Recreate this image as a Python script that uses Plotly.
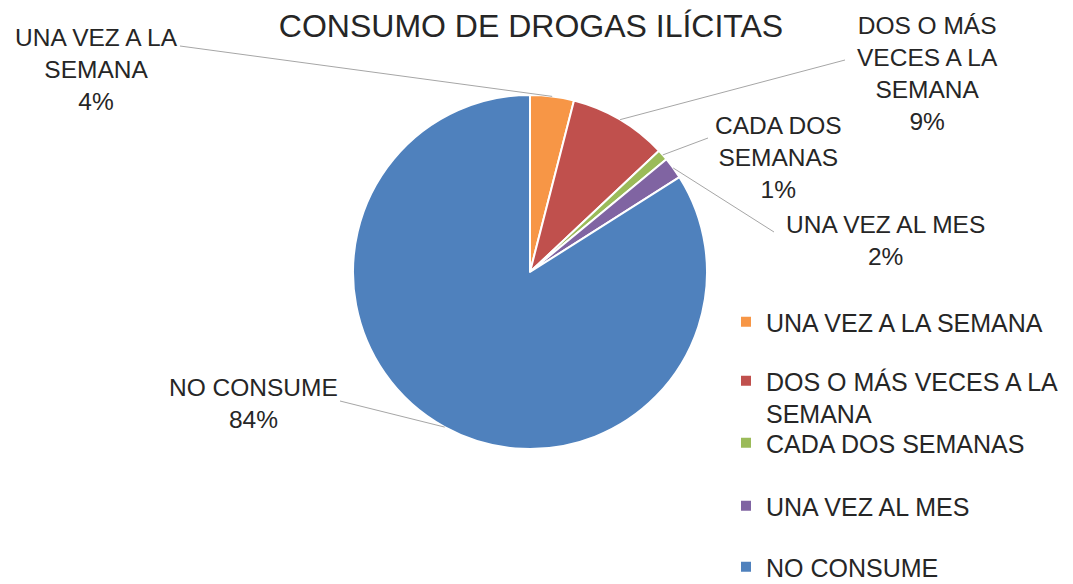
import numpy as np
import plotly.graph_objects as go

# la pagina deja 8px de margen en el body: se compensa
OFF = 8
W, H = 1073 - OFF, 584 - OFF

categorias = ["UNA VEZ A LA SEMANA", "DOS O MÁS VECES A LA SEMANA", "CADA DOS SEMANAS",
              "UNA VEZ AL MES", "NO CONSUME"]
porcentajes = [4, 9, 1, 2, 84]
colores = ["#F79646", "#C0504D", "#9BBB59", "#8064A2", "#4F81BD"]
etiquetas = ["UNA VEZ A LA<br>SEMANA", "DOS O MÁS<br>VECES A LA<br>SEMANA", "CADA DOS<br>SEMANAS",
             "UNA VEZ AL MES", "NO CONSUME"]
leyenda = ["UNA VEZ A LA SEMANA", "DOS O MÁS VECES A LA<br>SEMANA", "CADA DOS SEMANAS",
           "UNA VEZ AL MES", "NO CONSUME"]

# posicion del pastel en pixeles de la ventana
cx, cy, r = 530, 272, 177
# centro de cada etiqueta y punto donde termina su linea guia
pos_etiqueta = [(96, 70), (927, 73), (778, 157), (885, 240), (253, 403)]
fin_linea = [(180, 46), (845, 60), (708, 138), (774, 232), (340, 401)]
# posicion vertical de cada entrada de leyenda
pos_leyenda = [322, 397, 443, 506, 567]

px_x = lambda x: (x - OFF) / W
px_y = lambda y: 1 - (y - OFF) / H

fig = go.Figure()
fig.add_trace(go.Pie(
    labels=categorias, values=porcentajes, sort=False, direction="clockwise",
    rotation=0, textinfo="none", showlegend=False, hoverinfo="label+percent",
    marker=dict(colors=colores, line=dict(color="white", width=2)),
    domain=dict(x=[px_x(cx - r), px_x(cx + r)], y=[px_y(cy + r), px_y(cy - r)]),
))

total = sum(porcentajes)
acum = np.cumsum([0] + porcentajes)
shapes, annots = [], []
for i, v in enumerate(porcentajes):
    ang = np.radians((acum[i] + v / 2) / total * 360)
    ex, ey = cx + r * np.sin(ang), cy - r * np.cos(ang)
    fx, fy = fin_linea[i]
    shapes.append(dict(type="line", xref="paper", yref="paper",
                       x0=px_x(ex), y0=px_y(ey), x1=px_x(fx), y1=px_y(fy),
                       line=dict(color="#A6A6A6", width=1)))
    tx, ty = pos_etiqueta[i]
    pct = round(v / total * 100)
    annots.append(dict(text=f"{etiquetas[i]}<br>{pct}%", xref="paper", yref="paper",
                       x=px_x(tx), y=px_y(ty), xanchor="center", yanchor="middle",
                       showarrow=False, align="center",
                       font=dict(size=24.5, color="#262626")))

# leyenda: una entrada por leyenda para reproducir el espaciado
leg_layout = {}
for i, nombre in enumerate(leyenda):
    key = "legend" if i == 0 else f"legend{i + 1}"
    fig.add_trace(go.Scatter(
        x=[None], y=[None], mode="markers", name=nombre, legend=key,
        marker=dict(symbol="square", size=10, color=colores[i]),
    ))
    leg_layout[key] = dict(x=px_x(726), y=px_y(pos_leyenda[i]), xanchor="left",
                           yanchor="middle", valign="top", bgcolor="rgba(0,0,0,0)",
                           font=dict(size=25, color="#262626"), itemwidth=30)

fig.update_layout(
    width=W, height=H, margin=dict(l=0, r=0, t=0, b=0, autoexpand=False),
    paper_bgcolor="white", plot_bgcolor="white",
    font=dict(family="Liberation Sans, Arial, sans-serif"),
    title=dict(text="CONSUMO DE DROGAS ILÍCITAS", x=px_x(531), y=px_y(26),
               xanchor="center", yanchor="middle",
               font=dict(size=32, color="#262626")),
    xaxis=dict(visible=False), yaxis=dict(visible=False),
    shapes=shapes, annotations=annots,
    **leg_layout,
)

fig.write_html("out.html")
